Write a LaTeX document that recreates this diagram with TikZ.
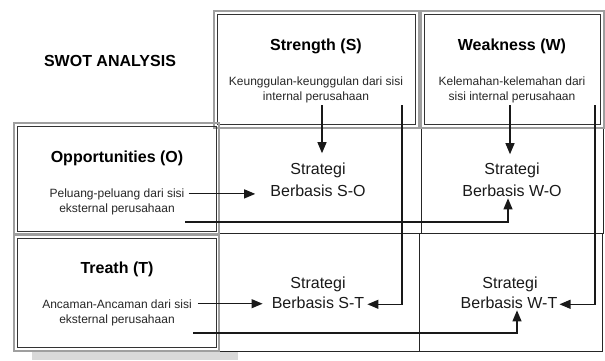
\documentclass[tikz,border=0pt]{standalone}
\usepackage{fontspec}
\setmainfont{Liberation Sans}
\usetikzlibrary{arrows.meta}

\begin{document}
\begin{tikzpicture}[x=1pt,y=-1pt,
    outerline/.style={draw=gray!75,line width=1.3pt},
    innerline/.style={draw=black!80,line width=1pt},
    cell/.style={draw=black!85,line width=0.9pt},
    title/.style={font=\fontsize{16}{19}\selectfont\bfseries,anchor=base,inner sep=1pt},
    sub/.style={font=\fontsize{12}{14}\selectfont,text=black!85,anchor=base,inner sep=1pt},
    strat/.style={font=\fontsize{16}{19}\selectfont,text=black!90,anchor=base,inner sep=2pt},
    arr/.style={-{Triangle[length=11pt,width=9pt]},line width=1.1pt,draw=black!90}]
        \useasboundingbox (0,0) rectangle (605,360);
        % shadow under the T box
        \fill[gray!30] (32,352) rectangle (238,360);
        % strategy cells
        \draw[cell] (218,127) rectangle (421,233);
        \draw[cell] (421,127) rectangle (603,233);
        \draw[cell] (218,233) rectangle (419,351);
        \draw[cell] (419,233) rectangle (602,351);
        % header boxes, double frame
        \draw[outerline] (214,11) rectangle (419,128);
        \draw[innerline] (217.5,14.5) rectangle (415.5,124.5);
        \draw[outerline] (421,11) rectangle (604,128);
        \draw[innerline] (424.5,14.5) rectangle (600.5,124.5);
        \draw[outerline] (14,123) rectangle (219,234);
        \draw[innerline] (17.5,126.5) rectangle (216,231);
        \draw[outerline] (14,235) rectangle (219,351);
        \draw[innerline] (17.5,238.5) rectangle (216,347.5);
        % texts
        \node[title] (swot) at (110,66) {SWOT ANALYSIS};
        \node[title] (str) at (316,50) {Strength (S)};
        \node[sub] (sg1) at (316,85) {Keunggulan-keunggulan dari sisi};
        \node[sub] (sg2) at (316,100) {internal perusahaan};
        \node[title] (wk) at (512,50) {Weakness (W)};
        \node[sub] (wk1) at (512,85) {Kelemahan-kelemahan dari};
        \node[sub] (wk2) at (512,100) {sisi internal perusahaan};
        \node[title] (opp) at (117,162) {Opportunities (O)};
        \node[sub] (pl1) at (117,197) {Peluang-peluang dari sisi};
        \node[sub] (pl2) at (117,212) {eksternal perusahaan};
        \node[title] (thr) at (117,273) {Treath (T)};
        \node[sub] (an1) at (117,308) {Ancaman-Ancaman dari sisi};
        \node[sub] (an2) at (117,323) {eksternal perusahaan};
        \node[strat] (so) at (318,174) {Strategi};
        \node[strat] (sob) at (318,196) {Berbasis S-O};
        \node[strat] (wo) at (512,174) {Strategi};
        \node[strat] (wob) at (512,196) {Berbasis W-O};
        \node[strat] (st) at (318,288) {Strategi};
        \node[strat] (stb) at (318,308) {Berbasis S-T};
        \node[strat] (wt) at (510,288) {Strategi};
        \node[strat] (wtb) at (509,308) {Berbasis W-T};
        % free ends of the connectors
        \coordinate (sA) at (322,105);
        \coordinate (sB) at (402,105);
        \coordinate (wA) at (510,105);
        \coordinate (wB) at (595,105);
        \coordinate (oB) at (185,222);
        \coordinate (tB) at (193,333);
        % connectors
        \draw[arr,shorten >=7pt] (sA) -- (sA |- so.north);
        \draw[arr,shorten >=1pt] (sB) |- ([yshift=-2pt]stb.east);
        \draw[arr,shorten >=6pt] (wA) -- (wA |- wo.north);
        \draw[arr] (wB) |- ([yshift=-2pt]wtb.east);
        \draw[arr,shorten >=13pt] ([xshift=3pt]pl1.east) -- (pl1.east -| sob.west);
        \draw[arr] (oB) -| ([xshift=-4pt]wob.south);
        \draw[arr,shorten >=7pt] ([xshift=5pt]an1.east) -- (an1.east -| stb.west);
        \draw[arr] (tB) -| ([xshift=8pt]wtb.south);
      \end{tikzpicture}
\end{document}
